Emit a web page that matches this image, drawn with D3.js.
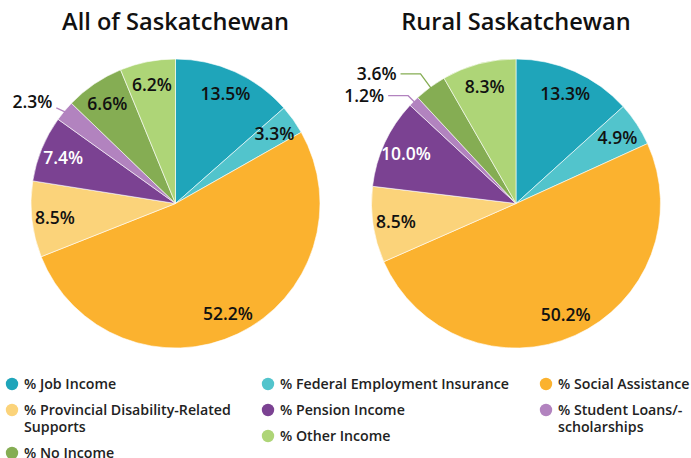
<!DOCTYPE html>
<html>
<head>
<meta charset="utf-8">
<script src="https://cdn.jsdelivr.net/npm/d3@7"></script>
<style>
  html, body { margin: 0; padding: 0; background: #fff; }
  svg { display: block; font-family: "Open Sans", sans-serif; }
</style>
</head>
<body>
<svg id="chart" width="691" height="458"></svg>
<script>
const categories = [
  "% Job Income",
  "% Federal Employment Insurance",
  "% Social Assistance",
  "% Provincial Disability-Related Supports",
  "% Pension Income",
  "% Student Loans/-scholarships",
  "% No Income",
  "% Other Income"
];
const colors = ["#1fa5ba", "#52c4cc", "#fbb22f", "#fbd37a", "#7b4292", "#b283bf", "#85ad53", "#aed577"];
const allSask = [13.5, 3.3, 52.2, 8.5, 7.4, 2.3, 6.6, 6.2];
const ruralSask = [13.3, 4.9, 50.2, 8.5, 10.0, 1.2, 3.6, 8.3];
const titles = ["All of Saskatchewan", "Rural Saskatchewan"];
const whiteLabel = [4];

const svg = d3.select("#chart");
const R = 144.5;
const pies = [
  { cx: 175.5, cy: 203.5, values: allSask, title: titles[0], outside: { 5: 8 }, leader: "short" },
  { cx: 516, cy: 203.5, values: ruralSask, title: titles[1], outside: { 5: 8, 6: 16.5 }, leader: "elbow" }
];

const pie = d3.pie().sort(null).value(d => d.v);
const arc = d3.arc().innerRadius(0).outerRadius(R);

pies.forEach(p => {
  const g = svg.append("g").attr("transform", `translate(${p.cx},${p.cy})`);
  const data = pie(p.values.map((v, i) => ({ v, i })));

  g.selectAll("path.slice").data(data).join("path")
    .attr("class", "slice")
    .attr("d", arc)
    .attr("fill", d => colors[d.data.i])
    .attr("stroke", "#fff")
    .attr("stroke-width", 0.6);

  const lr = R * 0.84;
  data.forEach(d => {
    const a = (d.startAngle + d.endAngle) / 2;
    const sx = Math.sin(a), sy = -Math.cos(a);
    const label = d.data.v.toFixed(1) + "%";
    const ext = p.outside[d.data.i];
    if (ext !== undefined) {
      const col = colors[d.data.i];
      if (p.leader === "short") {
        const x0 = sx * (R - 2), y0 = sy * (R - 2);
        const x1 = sx * (R + ext) - 2, y1 = sy * (R + ext) + 2;
        g.append("line").attr("x1", x0).attr("y1", y0).attr("x2", x1).attr("y2", y1)
          .attr("stroke", col).attr("stroke-width", 1.3);
        g.append("text").attr("x", x1 - 4).attr("y", y1 - 7)
          .attr("text-anchor", "end").attr("dominant-baseline", "central")
          .attr("font-size", 17.5).attr("font-weight", 600).attr("fill", "#111")
          .text(label);
      } else {
        const x0 = sx * (R - 3), y0 = sy * (R - 3);
        const x1 = sx * (R + ext), y1 = sy * (R + ext);
        const x2 = x1 - 20;
        g.append("polyline")
          .attr("points", `${x0},${y0} ${x1},${y1} ${x2},${y1}`)
          .attr("fill", "none").attr("stroke", col).attr("stroke-width", 1.3);
        g.append("text").attr("x", x2 - 4).attr("y", y1 - 1)
          .attr("text-anchor", "end").attr("dominant-baseline", "central")
          .attr("font-size", 17.5).attr("font-weight", 600).attr("fill", "#111")
          .text(label);
      }
    } else {
      g.append("text").attr("x", sx * lr).attr("y", sy * lr)
        .attr("text-anchor", "middle").attr("dominant-baseline", "central")
        .attr("font-size", 17.5).attr("font-weight", 600)
        .attr("fill", whiteLabel.includes(d.data.i) ? "#fff" : "#111")
        .text(label);
    }
  });

  svg.append("text").attr("x", p.cx).attr("y", 21)
    .attr("text-anchor", "middle").attr("dominant-baseline", "central")
    .attr("font-size", 23.6).attr("font-weight", 600).attr("fill", "#111")
    .text(p.title);
});

// Legend: three columns
const legendCols = [
  { x: 12, items: [0, 3, 6] },
  { x: 268, items: [1, 4, 7] },
  { x: 546, items: [2, 5] }
];
const legendLines = {
  3: ["% Provincial Disability-Related", "Supports"],
  5: ["% Student Loans/-", "scholarships"]
};
const lg = svg.append("g");
legendCols.forEach(c => {
  let y = 383;
  c.items.forEach(i => {
    const lines = legendLines[i] || [categories[i]];
    lg.append("circle").attr("cx", c.x).attr("cy", y + 1).attr("r", 6.2).attr("fill", colors[i]);
    lines.forEach((t, k) => {
      lg.append("text").attr("x", c.x + 12).attr("y", y + k * 17.5)
        .attr("dominant-baseline", "central")
        .attr("font-size", 14.2).attr("font-weight", 600).attr("fill", "#222")
        .text(t);
    });
    y += 26 + (lines.length - 1) * 17;
  });
});
</script>
</body>
</html>
